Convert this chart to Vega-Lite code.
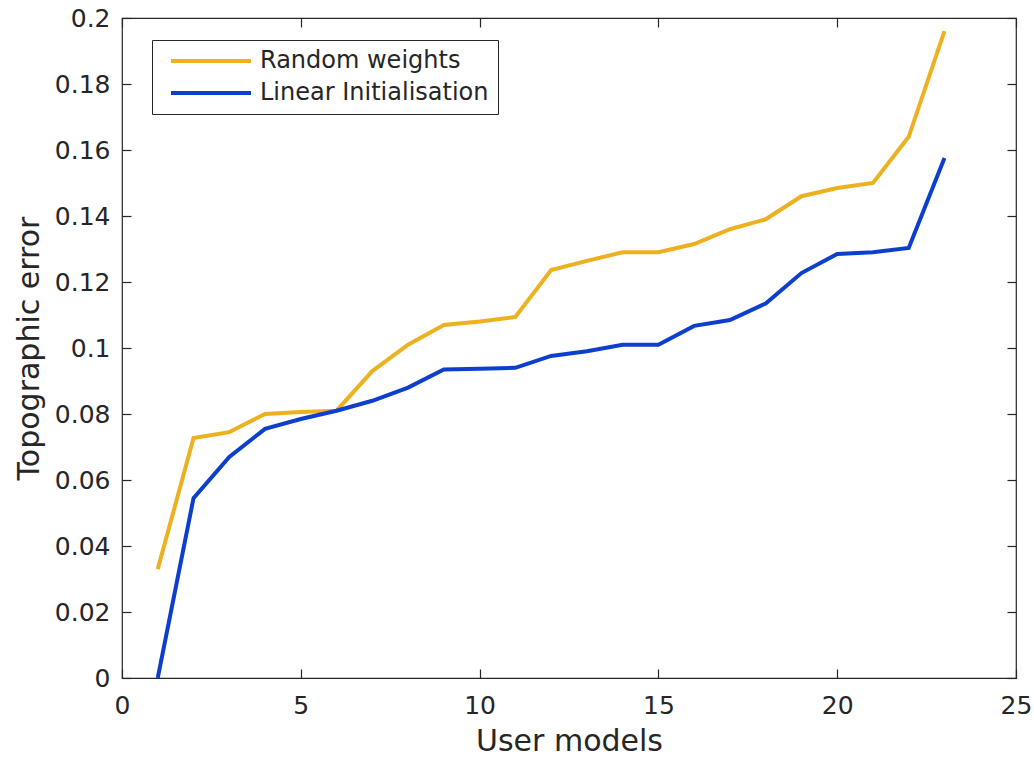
{
  "$schema": "https://vega.github.io/schema/vega-lite/v6.json",
  "width": 894,
  "height": 660,
  "autosize": {"type": "none"},
  "padding": {"left": 122, "top": 18, "right": 18, "bottom": 82},
  "background": "white",
  "config": {
    "font": "DejaVu Sans",
    "view": {"stroke": "#262626", "strokeWidth": 1.2},
    "axis": {"grid": false, "domain": false, "tickColor": "#262626", "labelColor": "#262626", "titleColor": "#262626", "labelFontSize": 25, "titleFontSize": 30, "titleFontWeight": "normal", "tickWidth": 1.2}
  },
  "data": {"values": [
    {"m": 1, "s": "Random weights", "e": 0.033},
    {"m": 2, "s": "Random weights", "e": 0.0727},
    {"m": 3, "s": "Random weights", "e": 0.0745},
    {"m": 4, "s": "Random weights", "e": 0.080},
    {"m": 5, "s": "Random weights", "e": 0.0806},
    {"m": 6, "s": "Random weights", "e": 0.081},
    {"m": 7, "s": "Random weights", "e": 0.093},
    {"m": 8, "s": "Random weights", "e": 0.101},
    {"m": 9, "s": "Random weights", "e": 0.107},
    {"m": 10, "s": "Random weights", "e": 0.108},
    {"m": 11, "s": "Random weights", "e": 0.1094},
    {"m": 12, "s": "Random weights", "e": 0.1236},
    {"m": 13, "s": "Random weights", "e": 0.1264},
    {"m": 14, "s": "Random weights", "e": 0.129},
    {"m": 15, "s": "Random weights", "e": 0.129},
    {"m": 16, "s": "Random weights", "e": 0.1315},
    {"m": 17, "s": "Random weights", "e": 0.136},
    {"m": 18, "s": "Random weights", "e": 0.139},
    {"m": 19, "s": "Random weights", "e": 0.146},
    {"m": 20, "s": "Random weights", "e": 0.1485},
    {"m": 21, "s": "Random weights", "e": 0.150},
    {"m": 22, "s": "Random weights", "e": 0.164},
    {"m": 23, "s": "Random weights", "e": 0.196},
    {"m": 1, "s": "Linear Initialisation", "e": 0.0},
    {"m": 2, "s": "Linear Initialisation", "e": 0.0545},
    {"m": 3, "s": "Linear Initialisation", "e": 0.067},
    {"m": 4, "s": "Linear Initialisation", "e": 0.0755},
    {"m": 5, "s": "Linear Initialisation", "e": 0.0785},
    {"m": 6, "s": "Linear Initialisation", "e": 0.081},
    {"m": 7, "s": "Linear Initialisation", "e": 0.084},
    {"m": 8, "s": "Linear Initialisation", "e": 0.088},
    {"m": 9, "s": "Linear Initialisation", "e": 0.0935},
    {"m": 10, "s": "Linear Initialisation", "e": 0.0937},
    {"m": 11, "s": "Linear Initialisation", "e": 0.094},
    {"m": 12, "s": "Linear Initialisation", "e": 0.0976},
    {"m": 13, "s": "Linear Initialisation", "e": 0.099},
    {"m": 14, "s": "Linear Initialisation", "e": 0.101},
    {"m": 15, "s": "Linear Initialisation", "e": 0.101},
    {"m": 16, "s": "Linear Initialisation", "e": 0.1067},
    {"m": 17, "s": "Linear Initialisation", "e": 0.1085},
    {"m": 18, "s": "Linear Initialisation", "e": 0.1135},
    {"m": 19, "s": "Linear Initialisation", "e": 0.1227},
    {"m": 20, "s": "Linear Initialisation", "e": 0.1285},
    {"m": 21, "s": "Linear Initialisation", "e": 0.129},
    {"m": 22, "s": "Linear Initialisation", "e": 0.1303},
    {"m": 23, "s": "Linear Initialisation", "e": 0.1576}
  ]},
  "resolve": {"axis": {"x": "independent", "y": "independent"}},
  "layer": [
    {
      "mark": {"type": "line", "strokeWidth": 4, "clip": true},
      "encoding": {
        "x": {"field": "m", "type": "quantitative", "scale": {"domain": [0, 25], "nice": false, "zero": false},
              "axis": {"title": "User models", "values": [0, 5, 10, 15, 20, 25], "tickSize": -9, "labelPadding": 24, "titlePadding": 8, "labelFlush": false}},
        "y": {"field": "e", "type": "quantitative", "scale": {"domain": [0, 0.2], "nice": false},
              "axis": {"title": "Topographic error", "values": [0, 0.02, 0.04, 0.06, 0.08, 0.1, 0.12, 0.14, 0.16, 0.18, 0.2], "format": ".2~f", "tickSize": -9, "labelPadding": 21, "titlePadding": 10, "labelFlush": false}},
        "color": {"field": "s", "type": "nominal",
                  "scale": {"domain": ["Random weights", "Linear Initialisation"], "range": ["#EDB120", "#0D3FCE"]},
                  "legend": {"title": null, "orient": "none", "legendX": 30, "legendY": 22, "symbolType": "M-4,0H4", "symbolSize": 400, "symbolStrokeWidth": 4, "symbolOffset": 38, "labelFontSize": 24, "labelLimit": 400, "labelColor": "#262626", "strokeColor": "#262626", "fillColor": "white", "padding": 9, "rowPadding": 8, "labelOffset": 37}},
        "order": {"field": "m", "type": "quantitative"}
      }
    },
    {
      "mark": {"type": "line", "opacity": 0},
      "encoding": {
        "x": {"field": "m", "type": "quantitative", "axis": {"orient": "top", "labels": false, "title": null, "values": [0, 5, 10, 15, 20, 25], "tickSize": -9}},
        "y": {"field": "e", "type": "quantitative", "axis": {"orient": "right", "labels": false, "title": null, "values": [0, 0.02, 0.04, 0.06, 0.08, 0.1, 0.12, 0.14, 0.16, 0.18, 0.2], "tickSize": -9}},
        "detail": {"field": "s"}
      }
    }
  ]
}
